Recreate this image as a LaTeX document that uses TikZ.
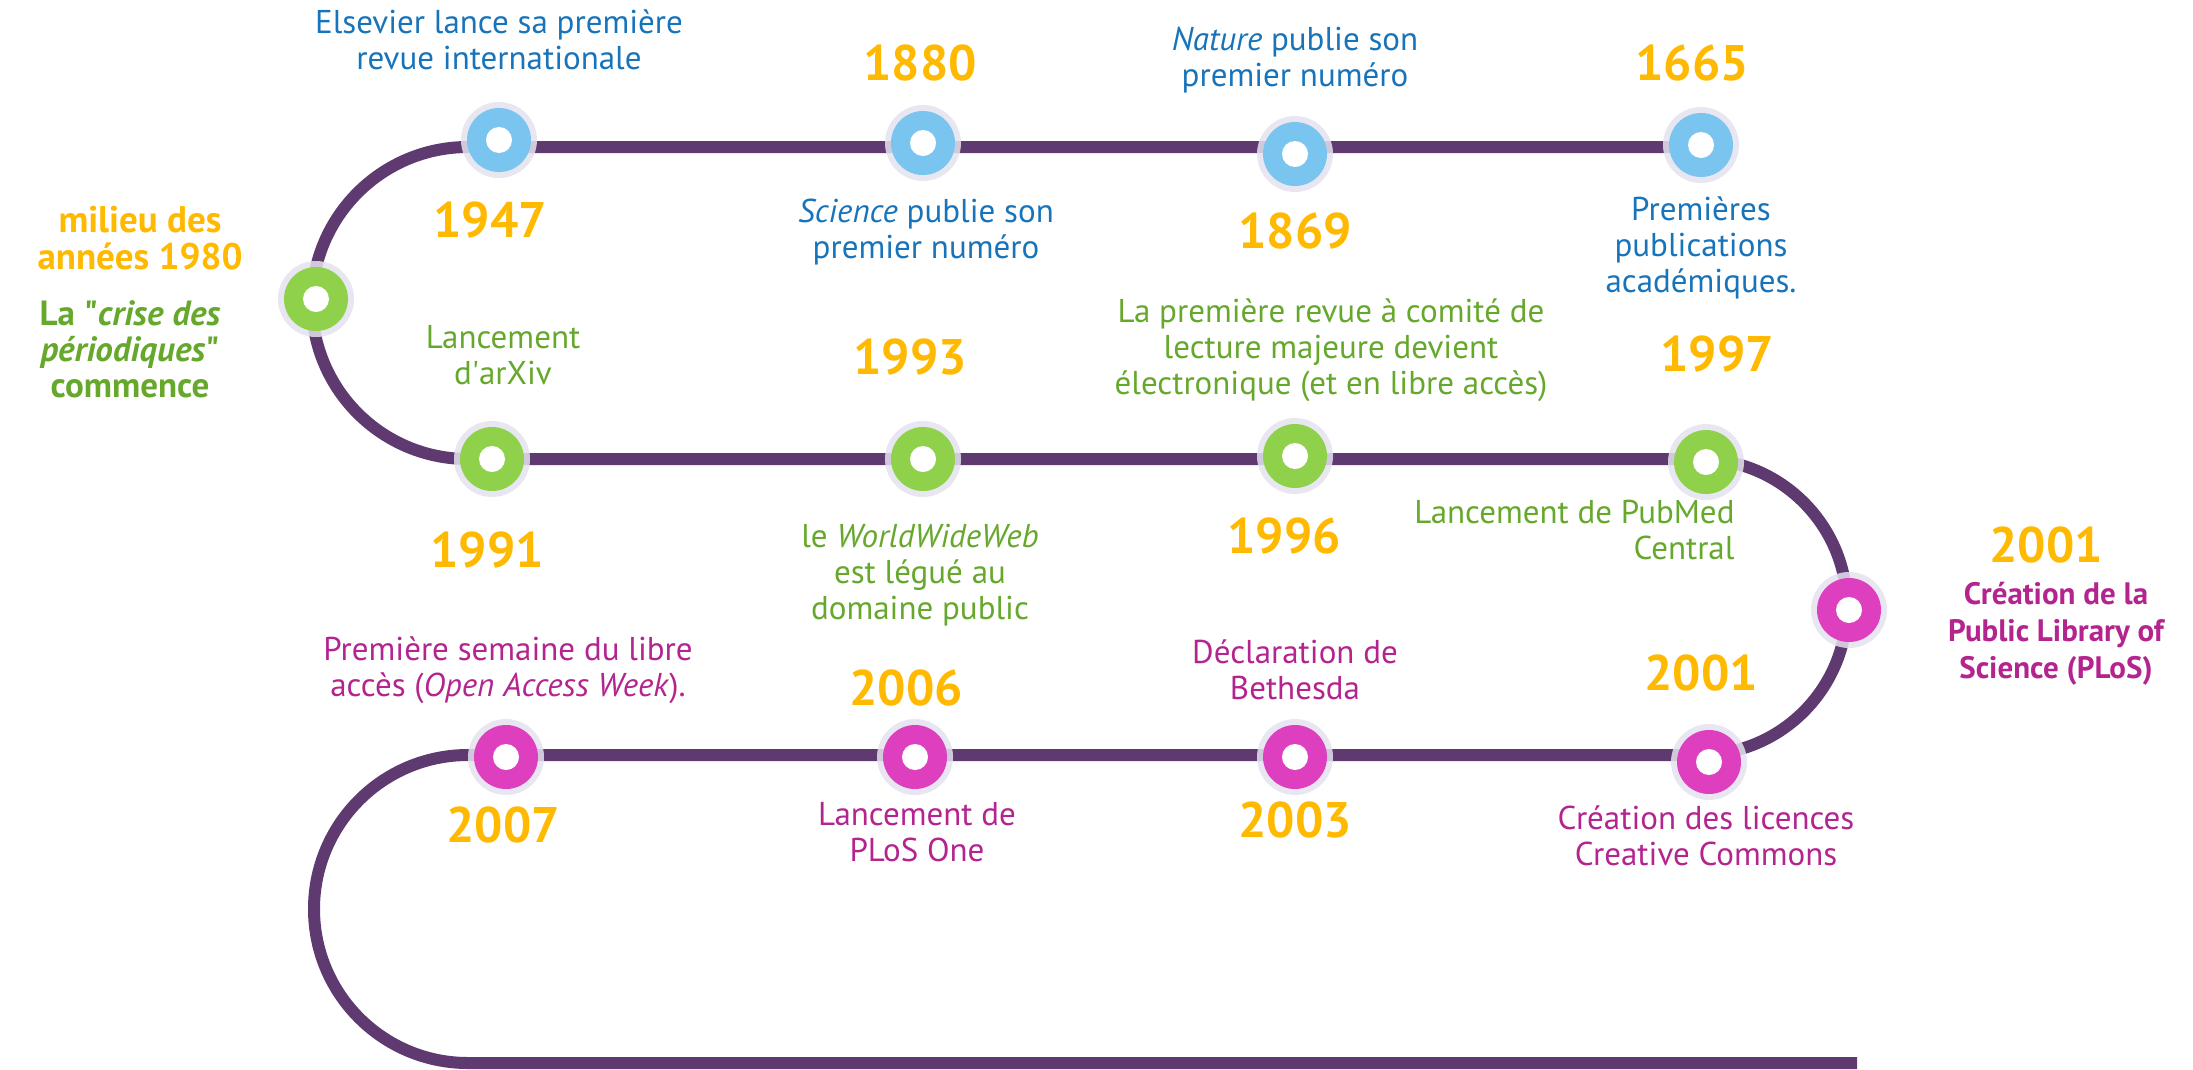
\documentclass[tikz,border=0pt]{standalone}
\usepackage{fontspec}
\setmainfont{PT Sans}
\usepackage{xcolor}
\usetikzlibrary{positioning,calc}

\definecolor{trackpurple}{RGB}{94,58,112}
\definecolor{halogrey}{RGB}{228,227,238}
\definecolor{dotblue}{RGB}{122,197,240}
\definecolor{dotgreen}{RGB}{143,209,74}
\definecolor{dotpink}{RGB}{221,63,190}
\definecolor{yearorange}{RGB}{255,185,0}
\definecolor{txtblue}{RGB}{24,116,186}
\definecolor{txtgreen}{RGB}{102,168,44}
\definecolor{txtpink}{RGB}{180,36,143}

\begin{document}
\begin{tikzpicture}[x=1pt,y=-1pt,
		track/.style={draw=trackpurple, line width=12pt},
		dot/.style={circle, minimum size=64pt, inner sep=0pt, fill=#1,
			preaction={draw=halogrey, line width=12pt, draw opacity=.85},
			path picture={\fill[white] (path picture bounding box.center) circle (13pt);}},
		year/.style={font=\fontsize{50}{50}\selectfont\bfseries, text=yearorange},
		event/.style={font=\fontsize{33}{36}\selectfont, text=#1, align=center},
		headline/.style={font=\fontsize{37}{37}\selectfont\bfseries, text=#1, align=center}]
	\useasboundingbox (0,0) rectangle (2193,1069);

	% the winding track
	\coordinate (r1r) at (1701,147);
	\coordinate (r1l) at (468,147);
	\coordinate (r2r) at (1699,459);
	\coordinate (r3l) at (468,755);
	\coordinate (r4r) at (1857,1063);
	\draw[track] (r1r) -- (r1l) arc[start angle=90, end angle=270, radius=156pt]
		-- (r2r) arc[start angle=90, end angle=-90, radius=148pt]
		-- (r3l) arc[start angle=90, end angle=270, radius=154pt] -- (r4r);

	% row 1
	\node[dot=dotblue] (d1947) at (499,140) {};
	\node[dot=dotblue] (d1880) at (923,143) {};
	\node[dot=dotblue] (d1869) at (1295,154) {};
	\node[dot=dotblue] (d1665) at (1701,145) {};
	\node[event=txtblue] (e1947) at (499,40) {Elsevier lance sa première\\revue internationale};
	\node[year] (y1947) at (490,220) {1947};
	\node[year] (y1880) at (920,63) {1880};
	\node[event=txtblue] (e1880) at (926,232) {\textit{Science} publie son\\premier numéro};
	\node[event=txtblue] (e1869) at (1295,60) {\textit{Nature} publie son\\premier numéro};
	\node[year] (y1869) at (1295,231) {1869};
	\node[year] (y1665) at (1692,63) {1665};
	\node[event=txtblue] (e1665) at (1701,248) {Premières\\publications\\académiques.};

	% left bend
	\node[dot=dotgreen] (dmid80) at (316,299) {};
	\node[headline=yearorange] (ymid80) at (140,238) {milieu des\\années 1980};
	\node[headline=txtgreen, font=\fontsize{35}{36}\selectfont\bfseries] (emid80) at (130,349)
		{La \textquotedbl\textit{crise des}\\\textit{périodiques}\textquotedbl\\commence};

	% row 2
	\node[dot=dotgreen] (d1991) at (492,459) {};
	\node[dot=dotgreen] (d1993) at (923,459) {};
	\node[dot=dotgreen] (d1996) at (1295,456) {};
	\node[dot=dotgreen] (d1997) at (1706,462) {};
	\node[event=txtgreen] (e1991) at (503,355) {Lancement\\d\textquotesingle arXiv};
	\node[year] (y1991) at (487,550) {1991};
	\node[year] (y1993) at (910,357) {1993};
	\node[event=txtgreen] (e1993) at (920,575) {le \textit{WorldWideWeb}\\est légué au\\domaine public};
	\node[event=txtgreen] (e1996) at (1331,350) {La première revue à comité de\\lecture majeure devient\\électronique (et en libre accès)};
	\node[year] (y1996) at (1284,536) {1996};
	\node[year] (y1997) at (1717,354) {1997};
	\node[event=txtgreen, align=right, anchor=east] (e1997) at (1738,530) {Lancement de PubMed\\Central};

	% right bend
	\node[dot=dotpink] (dplos) at (1849,610) {};
	\node[year] (yplos) at (2046,545) {2001};
	\node[headline=txtpink, font=\fontsize{31}{37}\selectfont\bfseries] (eplos) at (2056,634)
		{Création de la\\Public Library of\\Science (PLoS)};

	% row 3
	\node[dot=dotpink] (d2007) at (506,757) {};
	\node[dot=dotpink] (d2006) at (915,757) {};
	\node[dot=dotpink] (d2003) at (1295,757) {};
	\node[dot=dotpink] (d2001) at (1709,762) {};
	\node[event=txtpink] (e2007) at (508,670) {Première semaine du libre\\accès (\textit{Open Access Week}).};
	\node[year] (y2007) at (503,825) {2007};
	\node[year] (y2006) at (906,688) {2006};
	\node[event=txtpink] (e2006) at (917,832) {Lancement de\\PLoS One};
	\node[event=txtpink] (e2003) at (1295,670) {Déclaration de\\Bethesda};
	\node[year] (y2003) at (1295,820) {2003};
	\node[year] (y2001) at (1701,673) {2001};
	\node[event=txtpink] (e2001) at (1706,836) {Création des licences\\Creative Commons};
\end{tikzpicture}
\end{document}
